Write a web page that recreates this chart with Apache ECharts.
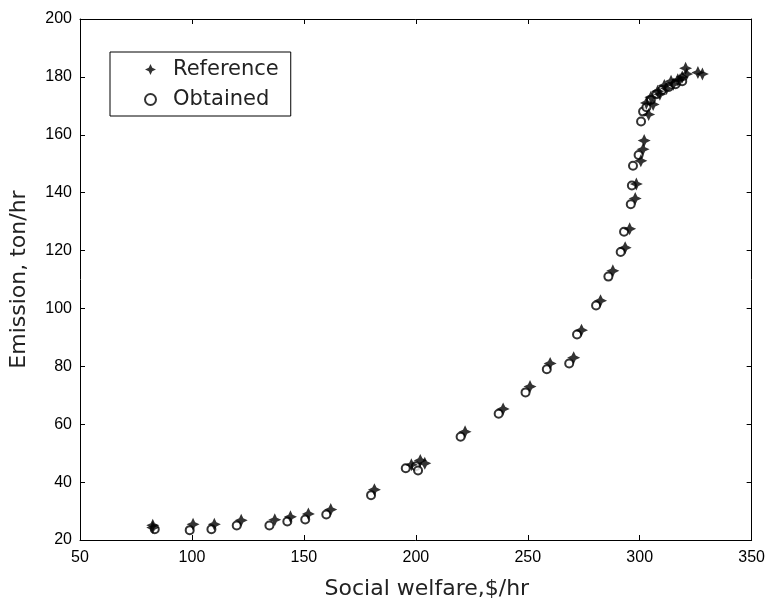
<!DOCTYPE html>
<html>
<head>
<meta charset="utf-8">
<script src="https://cdn.jsdelivr.net/npm/echarts@6/dist/echarts.min.js"></script>
<style>
  html, body { margin: 0; padding: 0; background: #fff; }
  #myChart { width: 768px; height: 605px; }
</style>
</head>
<body>
<div id="myChart"></div>
<script>
// Reference points (filled stars)
var refX = [82.5, 82.5, 100.5, 110, 122, 137, 144, 152, 162, 181.5, 198, 202, 204, 222, 239, 251, 260, 270.5, 274, 282.5, 288, 293.5, 295.5, 298, 298.5, 300.5, 301.5, 302, 304, 303, 305, 306, 308, 309, 311, 312, 314, 315, 317, 318, 319, 320.5, 321, 326, 328];
var refY = [25.1, 24.3, 25.4, 25.4, 26.8, 27, 28, 29, 30.5, 37.4, 46, 47.5, 46.5, 57.4, 65.3, 73, 81, 83, 92.5, 102.7, 113, 121, 127.5, 138, 143, 151, 155, 158, 167, 171, 173, 170.5, 175, 174, 177, 176, 178.5, 177.5, 179, 179, 180, 183, 181, 181.5, 181];
// Obtained points (open circles)
var obtX = [83.4, 99, 108.7, 120, 134.6, 142.6, 150.6, 160, 180, 195.5, 200, 201, 220, 237, 249, 258.5, 268.5, 272, 280.5, 286, 291.5, 293, 296, 296.5, 297, 299.5, 300.6, 301.5, 303, 305, 307.5, 310, 313, 316, 319];
var obtY = [23.7, 23.4, 23.7, 25, 25, 26.4, 27.1, 28.8, 35.5, 44.8, 45.5, 44, 55.7, 63.6, 71, 79, 81, 91, 101, 111, 119.5, 126.5, 136, 142.5, 149.3, 153, 164.6, 168, 169.5, 172, 174, 175.5, 176.5, 177.5, 178.5];

function zip(a, b) {
  var out = [];
  for (var i = 0; i < a.length; i++) out.push([a[i], b[i]]);
  return out;
}

var starPath = 'path://M0,-10 L3.2,-3.2 L10,0 L3.2,3.2 L0,10 L-3.2,3.2 L-10,0 L-3.2,-3.2 Z';
var font = 'Arial, "Liberation Sans", sans-serif';
var titleFont = '"DejaVu Sans", sans-serif';

var myChart = echarts.init(document.getElementById('myChart'));

var axisBase = {
  type: 'value',
  axisLine: { show: true, onZero: false, lineStyle: { color: '#000', width: 1 } },
  axisTick: { show: true, inside: true, length: 5, lineStyle: { color: '#000' } },
  splitLine: { show: false }
};

var option = {
  animation: false,
  backgroundColor: '#fff',
  grid: { left: 80, right: 14, top: 19, bottom: 57 },
  legend: {
    orient: 'vertical',
    left: 110,
    top: 52,
    padding: [7, 12, 6, 34],
    itemGap: 9,
    itemWidth: 11,
    itemHeight: 11,
    borderColor: '#000',
    borderWidth: 1,
    textStyle: { fontFamily: titleFont, fontSize: 21, color: '#222', padding: [0, 0, 0, 12] },
    data: [
      { name: 'Reference', icon: starPath },
      { name: 'Obtained', icon: 'emptyCircle' }
    ]
  },
  xAxis: [
    Object.assign({}, axisBase, {
      min: 50, max: 350, interval: 50,
      name: 'Social welfare,$/hr',
      nameLocation: 'middle',
      nameGap: 38,
      nameTextStyle: { fontFamily: titleFont, fontSize: 22, color: '#222', padding: [0, 0, 0, 22] },
      axisLabel: { fontFamily: font, fontSize: 16, color: '#000', margin: 10 }
    }),
    Object.assign({}, axisBase, {
      position: 'top', min: 50, max: 350, interval: 50,
      axisLabel: { show: false }
    })
  ],
  yAxis: [
    Object.assign({}, axisBase, {
      min: 20, max: 200, interval: 20,
      name: 'Emission, ton/hr',
      nameLocation: 'middle',
      nameGap: 50,
      nameTextStyle: { fontFamily: titleFont, fontSize: 22, color: '#222' },
      axisLabel: { fontFamily: font, fontSize: 16, color: '#000', margin: 8 }
    }),
    Object.assign({}, axisBase, {
      position: 'right', min: 20, max: 200, interval: 20,
      axisLabel: { show: false }
    })
  ],
  series: [
    {
      name: 'Obtained',
      type: 'scatter',
      symbol: 'emptyCircle',
      symbolSize: 8,
      itemStyle: { color: '#000', borderWidth: 1 },
      data: zip(obtX, obtY)
    },
    {
      name: 'Reference',
      type: 'scatter',
      symbol: starPath,
      symbolSize: 13,
      itemStyle: { color: '#000' },
      data: zip(refX, refY)
    }
  ]
};
myChart.setOption(option);
</script>
</body>
</html>
